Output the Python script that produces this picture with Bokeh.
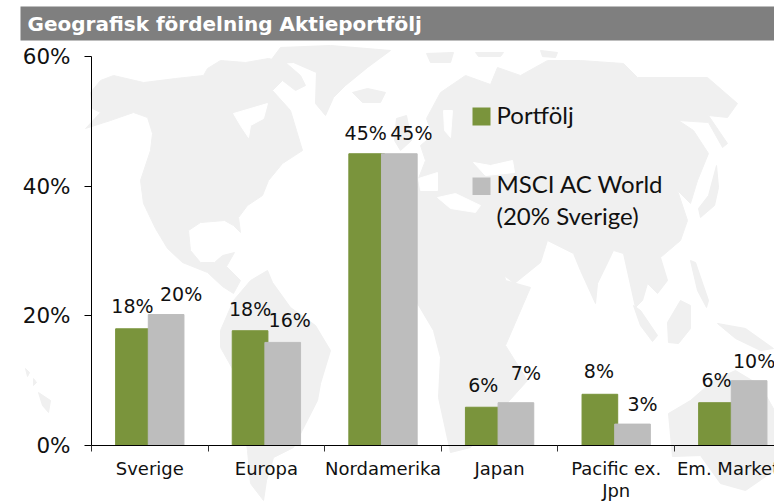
from bokeh.plotting import figure
from bokeh.models import LinearAxis, FixedTicker, Range1d
from bokeh.core.properties import value
from bokeh.embed import file_html
from bokeh.resources import INLINE

# ---- data ----
categories = ["Sverige", "Europa", "Nordamerika", "Japan", "Pacific ex.\nJpn", "Em. Markets"]
portfolj = [18.0, 17.7, 45.0, 5.9, 7.9, 6.6]
msci = [20.2, 15.9, 45.0, 6.6, 3.3, 10.0]
portfolj_labels = ["18%", "18%", "45%", "6%", "8%", "6%"]
msci_labels = ["20%", "16%", "45%", "7%", "3%", "10%"]
y_ticks = [0, 20, 40, 60]
title_text = "Geografisk fördelning Aktieportfölj"
legend_labels = ["Portfölj", "MSCI AC World", "(20% Sverige)"]

# ---- background world map outline (page pixels) ----
land = [
    # North + Central America
    [(90,92),(100,80),(113,75),(143,82),(175,78),(203,75),(207,68),(220,60),(245,62),(268,58),(285,62),(300,75),(305,85),
     (295,90),(282,80),(272,90),(290,110),(296,130),(302,150),(282,163),(268,180),(262,195),(247,205),(238,217),(240,232),
     (233,225),(224,220),(200,222),(188,230),(190,250),(200,262),(214,262),(222,255),(234,252),(226,266),(240,280),(233,293),
     (222,286),(207,272),(182,262),(167,248),(155,228),(143,203),(140,180),(150,150),(152,133),(147,117),(133,112),(110,120),
     (85,128),(100,112),(92,108)],
    # Greenland
    [(280,47),(330,45),(390,50),(367,67),(345,85),(333,97),(325,115),(315,103),(316,72),(293,62),(268,63)],
    # South America
    [(220,330),(233,300),(250,280),(267,270),(272,282),(290,307),(315,325),(330,350),(320,383),(317,400),(293,447),
     (273,457),(266,480),(263,500),(250,483),(247,450),(240,405),(233,370),(220,347)],
    # Eurasia + Africa
    [(395,240),(400,205),(416,195),(418,178),(425,160),(420,145),(432,135),(426,118),(440,92),(465,75),(490,84),(497,67),
     (520,75),(547,60),(580,60),(623,63),(637,77),(707,77),(737,103),(727,117),(708,115),(727,143),(722,147),(708,122),
     (678,120),(693,130),(708,153),(697,180),(690,203),(677,190),(687,220),(680,240),(660,257),(667,280),(657,293),
     (647,283),(642,300),(635,307),(623,253),(613,250),(597,283),(595,303),(580,270),(573,253),(547,240),(540,262),
     (514,283),(505,276),(500,250),(505,280),(530,287),(505,345),(527,380),(500,410),(470,447),(450,452),(438,397),
     (440,357),(433,330),(417,303),(385,310),(362,290),(370,260)],
    # Islands
    [(352,92),(367,88),(385,92),(380,102),(362,102)],
    [(396,118),(406,115),(411,140),(400,150),(394,140)],
    [(426,53),(453,52),(450,62),(430,62)],
    [(475,52),(503,52),(500,56),(478,56)],
    [(540,50),(557,52),(555,57),(542,56)],
    [(718,187),(714,205),(700,217),(698,208),(708,195),(716,165)],
    [(690,260),(695,262),(708,300),(706,307),(697,290)],
    [(633,305),(640,310),(657,335),(652,341),(640,325)],
    [(667,322),(680,300),(690,305),(690,328),(678,343),(668,342)],
    [(717,323),(745,328),(773,348),(760,350),(735,338)],
    [(668,413),(690,400),(713,380),(735,370),(760,385),(774,410),(774,470),(745,490),(720,483),(700,455),(672,456)],
    [(25,368),(29,372),(27,376)],
    [(38,392),(50,400),(48,412),(42,405)],
    [(33,378),(36,382),(33,385)],
]
sea = [
    [(233,113),(267,103),(263,118),(250,125),(248,137),(240,125)],   # Hudson Bay
    [(437,197),(455,193),(480,205),(475,212),(450,208)],             # Mediterranean
    [(418,178),(437,172),(437,190),(420,190)],                       # Biscay
    [(443,110),(452,110),(450,137),(444,130)],                       # Baltic
    [(473,162),(490,165),(512,160),(514,172),(485,175)],             # Black Sea
]

# ---- layout (page pixels) ----
FIG_LEFT, FIG_TOP = 0, 0
FIG_W, FIG_H = 774, 501
X0, CAT_W = 91.0, 116.6
Y0, PX_PER_UNIT = 445.0, 389.0 / 60.0

def dx(px):
    return (px - X0) / CAT_W

def dy(py):
    return (Y0 - py) / PX_PER_UNIT

p = figure(width=FIG_W, height=FIG_H, output_backend="svg", toolbar_location=None,
           x_axis_location=None, y_axis_location=None, min_border=0,
           x_range=Range1d(dx(FIG_LEFT), dx(FIG_LEFT + FIG_W)),
           y_range=Range1d(dy(FIG_TOP + FIG_H), dy(FIG_TOP)))
p.grid.visible = False
p.outline_line_color = None
p.background_fill_color = "white"
p.border_fill_color = "white"

LAND, SEA = "#f0f0f0", "#ffffff"
p.patches([[dx(a) for a, _ in s] for s in land], [[dy(b) for _, b in s] for s in land],
          fill_color=LAND, line_color=LAND)
p.patches([[dx(a) for a, _ in s] for s in sea], [[dy(b) for _, b in s] for s in sea],
          fill_color=SEA, line_color=SEA)

# title bar
p.quad(left=[dx(20)], right=[dx(774)], top=[dy(6)], bottom=[dy(40)], fill_color="#7f7f7f", line_color=None)
p.text(x=[dx(27)], y=[dy(23.5)], text=[title_text], text_color="white", text_font=value("DejaVu Sans"),
       text_font_style="bold", text_font_size="20px", text_baseline="alphabetic")

# bars
GREEN, GREY = "#7a943c", "#bdbdbd"
centers = [i + 0.5 for i in range(len(categories))]
BAR_W, BAR_OFF = 0.306, 0.14
green_x = [c - BAR_OFF for c in centers]
grey_x = [c + BAR_OFF for c in centers]
p.vbar(x=green_x, top=portfolj, bottom=0, width=BAR_W, fill_color=GREEN, line_color=GREEN, line_width=1)
p.vbar(x=grey_x, top=msci, bottom=0, width=BAR_W, fill_color=GREY, line_color=GREY, line_width=1)

# value labels, individually placed as in the reference
LABEL_FONT = value("DejaVu Sans")
green_dx = [-1, 0, -1, 0, -1, 0]
green_dy = [-23, -22, -21, -22, -23, -23]
grey_dx = [15, 7, 12, 10, 10, 5]
grey_dy = [-21, -22, -21, -30, -20, -20]
p.text(x=green_x, y=portfolj, text=portfolj_labels, x_offset=green_dx, y_offset=green_dy, text_align="center",
       text_baseline="alphabetic", text_font=LABEL_FONT, text_font_size="19px", text_color="#111111")
p.text(x=grey_x, y=msci, text=msci_labels, x_offset=grey_dx, y_offset=grey_dy, text_align="center",
       text_baseline="alphabetic", text_font=LABEL_FONT, text_font_size="19px", text_color="#111111")

# legend
LEG_FONT = value("Lato")
p.quad(left=[dx(472)], right=[dx(490)], top=[dy(107)], bottom=[dy(125)], fill_color=GREEN, line_color=None)
p.quad(left=[dx(472)], right=[dx(490)], top=[dy(177)], bottom=[dy(194.5)], fill_color=GREY, line_color=None)
p.text(x=[dx(496)] * 3, y=[dy(114), dy(183), dy(215)], text=legend_labels, text_baseline="alphabetic",
       text_font=LEG_FONT, text_font_size="24px", text_color="#111111")

# category labels (text glyphs so that the last one is cut by the frame, as in the reference)
label_x, label_text, label_off = [], [], []
for c, name in zip(centers, categories):
    for line_no, line in enumerate(name.split("\n")):
        label_x.append(c)
        label_text.append(line)
        label_off.append(23 + 22 * line_no)
p.text(x=label_x, y=[0] * len(label_x), text=label_text, y_offset=label_off, text_align="center",
       text_baseline="alphabetic", text_font=LABEL_FONT, text_font_size="18px", text_color="#111111")

# axes
yaxis = LinearAxis(fixed_location=0, ticker=FixedTicker(ticks=y_ticks), bounds=(0, 60),
                   major_label_overrides={t: f"{t}%" for t in y_ticks},
                   major_tick_in=0, major_tick_out=7, minor_tick_in=0, minor_tick_out=0,
                   major_label_standoff=14, major_label_text_font="DejaVu Sans",
                   major_label_text_font_size="21.5px", major_label_text_color="#111111",
                   axis_line_color="black", major_tick_line_color="black")
p.add_layout(yaxis, "left")

xaxis = LinearAxis(fixed_location=0, ticker=FixedTicker(ticks=list(range(len(categories) + 1))),
                   bounds=(0, len(categories)), major_tick_in=0, major_tick_out=6, minor_tick_in=0, minor_tick_out=0,
                   major_label_overrides={i: "" for i in range(len(categories) + 1)},
                   axis_line_color="black", major_tick_line_color="#333333")
p.add_layout(xaxis, "below")

open("out.html", "w").write(file_html(p, INLINE))
